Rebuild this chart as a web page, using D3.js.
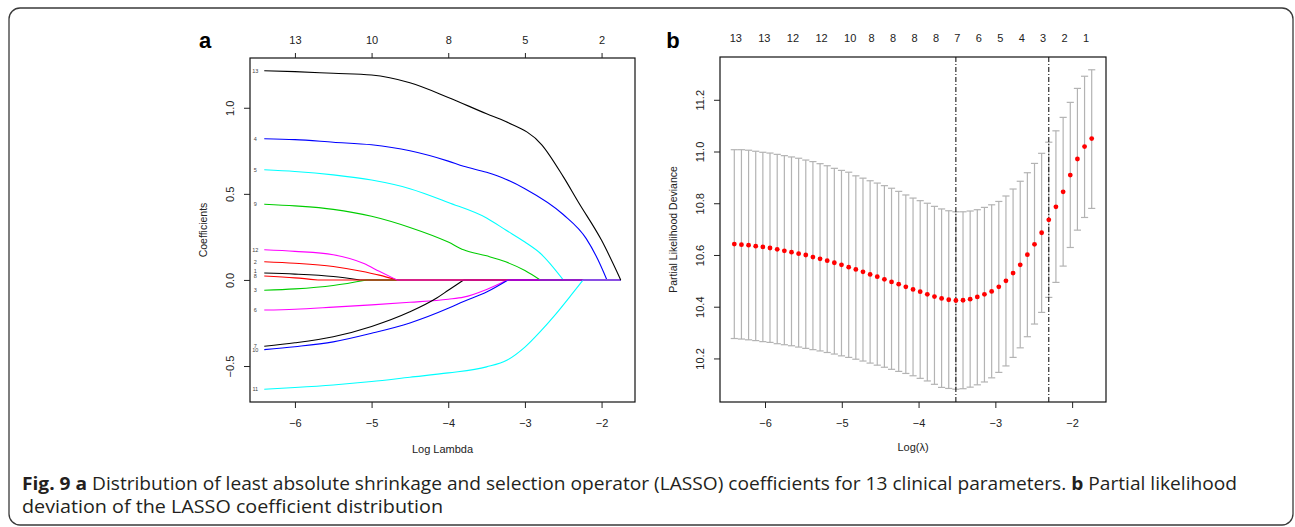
<!DOCTYPE html>
<html>
<head>
<meta charset="utf-8">
<script src="https://cdn.jsdelivr.net/npm/d3@7"></script>
<style>
  body { margin: 0; background: #fff; }
  svg { display: block; font-family: "Liberation Sans", Arial, sans-serif; }
</style>
</head>
<body>
<div id="chart"></div>
<script>
// ---- panel a: lasso coefficient paths, [log lambda, coefficient] ----
const v1 = [[-6.4, 0.040], [-6.0, 0.034], [-5.5, 0.020], [-5.15, 0]];
const v2 = [[-6.4, 0.106], [-6.0, 0.097], [-5.5, 0.078], [-5.15, 0.052], [-4.9, 0.028], [-4.67, 0]];
const v3 = [[-6.4, -0.060], [-6.0, -0.052], [-5.5, -0.032], [-5.06, 0]];
const v4 = [[-6.4, 0.82], [-6.0, 0.815], [-5.5, 0.80], [-5.0, 0.785], [-4.5, 0.75], [-4.0, 0.69], [-3.8, 0.66],
  [-3.5, 0.625], [-3.25, 0.585], [-3.0, 0.53], [-2.5, 0.38], [-2.2, 0.24], [-2.05, 0.12], [-1.93, 0]];
const v5 = [[-6.4, 0.64], [-6.0, 0.63], [-5.5, 0.61], [-5.0, 0.58], [-4.5, 0.53], [-4.0, 0.45], [-3.5, 0.36],
  [-3.25, 0.29], [-3.0, 0.22], [-2.8, 0.155], [-2.5, 0]];
const v6 = [[-6.4, -0.175], [-6.0, -0.17], [-5.5, -0.158], [-5.0, -0.145], [-4.5, -0.13], [-4.0, -0.112],
  [-3.8, -0.10], [-3.5, -0.055], [-3.23, 0]];
const v7 = [[-6.4, -0.385], [-6.0, -0.365], [-5.5, -0.33], [-5.0, -0.27], [-4.5, -0.185], [-4.15, -0.105],
  [-4.0, -0.06], [-3.8, 0]];
const v8 = [[-6.4, 0.023], [-6.0, 0.012], [-5.7, 0]];
const v9 = [[-6.4, 0.44], [-6.0, 0.43], [-5.5, 0.41], [-5.0, 0.37], [-4.5, 0.305], [-4.0, 0.22], [-3.8, 0.175],
  [-3.5, 0.14], [-3.25, 0.105], [-3.0, 0.055], [-2.8, 0]];
const v10 = [[-6.4, -0.405], [-6.0, -0.388], [-5.5, -0.36], [-5.0, -0.31], [-4.5, -0.25], [-4.0, -0.165],
  [-3.8, -0.125], [-3.5, -0.07], [-3.22, 0]];
const v11 = [[-6.4, -0.635], [-6.0, -0.625], [-5.5, -0.61], [-5.0, -0.59], [-4.5, -0.565], [-4.0, -0.54],
  [-3.5, -0.505], [-3.23, -0.465], [-3.0, -0.39], [-2.8, -0.30], [-2.6, -0.20], [-2.4, -0.09], [-2.24, 0]];
const v12 = [[-6.4, 0.175], [-6.0, 0.166], [-5.5, 0.146], [-5.1, 0.095], [-4.9, 0.05], [-4.67, 0]];
const v13 = [[-6.4, 1.215], [-6.0, 1.21], [-5.5, 1.20], [-5.0, 1.19], [-4.5, 1.145], [-4.0, 1.06], [-3.5, 0.965],
  [-3.25, 0.92], [-2.78, 0.785], [-2.5, 0.60], [-2.3, 0.45], [-2.0, 0.23], [-1.75, 0]];
const coefPaths = [v1, v2, v3, v4, v5, v6, v7, v8, v9, v10, v11, v12, v13];
const pathColors = ['#000000', '#ff0000', '#00cd00', '#0000ff', '#00ffff', '#ff00ff'];
const lambdaSpanA = [-6.4, -1.75];
const topTickAt = [-6, -5, -4, -3, -2];
const topTickLabels = ['13', '10', '8', '5', '2'];

// ---- panel b: cross-validation curve ----
const logLambda = [-6.400, -6.307, -6.214, -6.121, -6.028, -5.935, -5.841, -5.748, -5.655, -5.562,
  -5.469, -5.376, -5.283, -5.190, -5.097, -5.004, -4.910, -4.817, -4.724, -4.631,
  -4.538, -4.445, -4.352, -4.259, -4.166, -4.072, -3.979, -3.886, -3.793, -3.700,
  -3.607, -3.514, -3.421, -3.328, -3.235, -3.142, -3.048, -2.955, -2.862, -2.769,
  -2.676, -2.583, -2.490, -2.397, -2.304, -2.211, -2.117, -2.024, -1.931, -1.838, -1.745];
const cvMean = [10.642, 10.640, 10.638, 10.634, 10.631, 10.627, 10.622, 10.616, 10.611, 10.605,
  10.600, 10.592, 10.585, 10.578, 10.570, 10.562, 10.553, 10.544, 10.535, 10.525,
  10.516, 10.506, 10.496, 10.487, 10.477, 10.467, 10.458, 10.448, 10.439, 10.432,
  10.427, 10.424, 10.425, 10.429, 10.438, 10.448, 10.459, 10.477, 10.500, 10.530,
  10.562, 10.601, 10.641, 10.686, 10.736, 10.786, 10.844, 10.909, 10.971, 11.019, 11.050];
const cvUp = [11.007, 11.007, 11.005, 11.001, 10.997, 10.994, 10.989, 10.984, 10.979, 10.974,
  10.967, 10.961, 10.953, 10.945, 10.935, 10.927, 10.920, 10.906, 10.897, 10.887,
  10.878, 10.868, 10.858, 10.846, 10.832, 10.820, 10.810, 10.800, 10.788, 10.778,
  10.771, 10.767, 10.767, 10.770, 10.775, 10.784, 10.794, 10.807, 10.828, 10.855,
  10.885, 10.918, 10.954, 10.993, 11.036, 11.080, 11.132, 11.190, 11.244, 11.291, 11.316];
const cvLo = [10.277, 10.275, 10.272, 10.269, 10.265, 10.262, 10.257, 10.253, 10.249, 10.244,
  10.239, 10.234, 10.229, 10.223, 10.217, 10.210, 10.204, 10.197, 10.190, 10.182,
  10.174, 10.166, 10.158, 10.150, 10.142, 10.133, 10.123, 10.113, 10.100, 10.088,
  10.084, 10.081, 10.083, 10.089, 10.098, 10.109, 10.125, 10.146, 10.171, 10.204,
  10.241, 10.284, 10.333, 10.378, 10.436, 10.494, 10.557, 10.629, 10.696, 10.745, 10.780];
const nzLabelIdx = [0, 4, 8, 12, 16, 19, 22, 25, 28, 31, 34, 37, 40, 43, 46, 49];
const nzLabels = ['13', '13', '12', '12', '10', '8', '8', '8', '8', '7', '6', '5', '4', '3', '2', '1'];
const lambdaMinIdx = 31;
const lambda1seIdx = 44;

const width = 1295;
const height = 527;
const svg = d3.select('#chart').append('svg')
  .attr('width', width)
  .attr('height', height);

svg.append('rect')
  .attr('x', 9).attr('y', 8)
  .attr('width', 1284).attr('height', 517)
  .attr('rx', 11)
  .attr('fill', 'none')
  .attr('stroke', '#3a3a3a')
  .attr('stroke-width', 1.3);

// R style 4% padding
const pad = ext => {
  const p = (ext[1] - ext[0]) * 0.04;
  return [ext[0] - p, ext[1] + p];
};

function rotateLeftLabels(g) {
  g.selectAll('.tick text')
    .attr('x', null)
    .attr('dy', null)
    .attr('text-anchor', 'middle')
    .attr('transform', 'translate(-16,0) rotate(-90)');
}

function styleAxis(g) {
  g.select('.domain').remove();
  g.selectAll('.tick line').attr('stroke', '#222');
  g.selectAll('.tick text').attr('fill', '#222').style('font-size', '11px');
}

// ================= panel a =================
const boxA = { left: 250, right: 635, top: 58, bottom: 402 };
const allCoefs = coefPaths.flat().map(d => d[1]);
const xA = d3.scaleLinear().domain(pad(lambdaSpanA)).range([boxA.left, boxA.right]);
const yA = d3.scaleLinear().domain(pad(d3.extent(allCoefs))).range([boxA.bottom, boxA.top]);

const gA = svg.append('g');
const line = d3.line()
  .x(d => xA(d[0]))
  .y(d => yA(d[1]))
  .curve(d3.curveMonotoneX);

coefPaths.forEach((p, i) => {
  const col = pathColors[i % 6];
  gA.append('path')
    .attr('d', line(p))
    .attr('fill', 'none')
    .attr('stroke', col)
    .attr('stroke-width', 1.1);
  const last = p[p.length - 1];
  if (last[0] < lambdaSpanA[1]) {
    gA.append('line')
      .attr('x1', xA(last[0])).attr('x2', xA(lambdaSpanA[1]))
      .attr('y1', yA(0)).attr('y2', yA(0))
      .attr('stroke', col)
      .attr('stroke-width', 1.1);
  }
  gA.append('text')
    .attr('x', xA(p[0][0]) - 9)
    .attr('y', yA(p[0][1]) + (i === 0 ? -1.5 : 0))
    .attr('dy', '0.35em')
    .attr('text-anchor', 'middle')
    .style('font-size', '5.5px')
    .attr('fill', '#444')
    .text(i + 1);
});

gA.append('rect')
  .attr('x', boxA.left).attr('y', boxA.top)
  .attr('width', boxA.right - boxA.left).attr('height', boxA.bottom - boxA.top)
  .attr('fill', 'none').attr('stroke', '#111').attr('stroke-width', 1.2);

gA.append('g')
  .attr('transform', `translate(0,${boxA.bottom})`)
  .call(d3.axisBottom(xA).tickValues([-6, -5, -4, -3, -2]).tickSize(6).tickPadding(11).tickFormat(d3.format('d')))
  .call(styleAxis);

gA.append('g')
  .attr('transform', `translate(0,${boxA.top})`)
  .call(d3.axisTop(xA).tickValues(topTickAt).tickSize(5).tickPadding(9).tickFormat((d, i) => topTickLabels[i]))
  .call(styleAxis);

gA.append('g')
  .attr('transform', `translate(${boxA.left},0)`)
  .call(d3.axisLeft(yA).tickValues([-0.5, 0, 0.5, 1]).tickSize(6).tickFormat(d3.format('.1f')))
  .call(styleAxis)
  .call(rotateLeftLabels);

gA.append('text')
  .attr('x', (boxA.left + boxA.right) / 2).attr('y', 453)
  .attr('text-anchor', 'middle')
  .style('font-size', '11px').attr('fill', '#222')
  .text('Log Lambda');

gA.append('text')
  .attr('transform', `translate(207,${(boxA.top + boxA.bottom) / 2}) rotate(-90)`)
  .attr('text-anchor', 'middle')
  .style('font-size', '10.5px').attr('fill', '#222')
  .text('Coefficients');

svg.append('text')
  .attr('x', 205).attr('y', 48)
  .attr('text-anchor', 'middle')
  .style('font-size', '22px').style('font-weight', 'bold')
  .text('a');

// ================= panel b =================
const boxB = { left: 720, right: 1106, top: 57, bottom: 402 };
const xB = d3.scaleLinear().domain(pad(d3.extent(logLambda))).range([boxB.left, boxB.right]);
const yB = d3.scaleLinear().domain(pad([d3.min(cvLo), d3.max(cvUp)])).range([boxB.bottom, boxB.top]);
const barHalf = (d3.max(logLambda) - d3.min(logLambda)) * 0.01;

const gB = svg.append('g');
const bars = gB.selectAll('.bar')
  .data(logLambda)
  .enter()
  .append('g')
  .attr('class', 'bar')
  .attr('stroke', '#b3b3b3')
  .attr('stroke-width', 1.2);

bars.append('line')
  .attr('x1', d => xB(d)).attr('x2', d => xB(d))
  .attr('y1', (d, i) => yB(cvLo[i])).attr('y2', (d, i) => yB(cvUp[i]));
bars.append('line')
  .attr('x1', d => xB(d - barHalf)).attr('x2', d => xB(d + barHalf))
  .attr('y1', (d, i) => yB(cvUp[i])).attr('y2', (d, i) => yB(cvUp[i]));
bars.append('line')
  .attr('x1', d => xB(d - barHalf)).attr('x2', d => xB(d + barHalf))
  .attr('y1', (d, i) => yB(cvLo[i])).attr('y2', (d, i) => yB(cvLo[i]));

gB.selectAll('.vline')
  .data([lambdaMinIdx, lambda1seIdx])
  .enter()
  .append('line')
  .attr('x1', d => xB(logLambda[d])).attr('x2', d => xB(logLambda[d]))
  .attr('y1', boxB.top).attr('y2', boxB.bottom)
  .attr('stroke', '#000')
  .attr('stroke-width', 1)
  .attr('stroke-dasharray', '5,2,1,2');

gB.selectAll('circle')
  .data(logLambda)
  .enter()
  .append('circle')
  .attr('cx', d => xB(d))
  .attr('cy', (d, i) => yB(cvMean[i]))
  .attr('r', 2.4)
  .attr('fill', '#ff0000');

gB.append('rect')
  .attr('x', boxB.left).attr('y', boxB.top)
  .attr('width', boxB.right - boxB.left).attr('height', boxB.bottom - boxB.top)
  .attr('fill', 'none').attr('stroke', '#111').attr('stroke-width', 1.2);

gB.append('g')
  .attr('transform', `translate(0,${boxB.bottom})`)
  .call(d3.axisBottom(xB).tickValues([-6, -5, -4, -3, -2]).tickSize(6).tickPadding(11).tickFormat(d3.format('d')))
  .call(styleAxis);

gB.append('g')
  .attr('transform', `translate(${boxB.left},0)`)
  .call(d3.axisLeft(yB).tickValues([10.2, 10.4, 10.6, 10.8, 11.0, 11.2]).tickSize(6).tickFormat(d3.format('.1f')))
  .call(styleAxis)
  .call(rotateLeftLabels);

gB.selectAll('.nz')
  .data(nzLabelIdx)
  .enter()
  .append('text')
  .attr('class', 'nz')
  .attr('x', d => xB(logLambda[d]) + 1.5)
  .attr('y', 42)
  .attr('text-anchor', 'middle')
  .style('font-size', '11px').attr('fill', '#222')
  .text((d, i) => nzLabels[i]);

gB.append('text')
  .attr('x', (boxB.left + boxB.right) / 2).attr('y', 451)
  .attr('text-anchor', 'middle')
  .style('font-size', '11px').attr('fill', '#222')
  .text('Log(λ)');

gB.append('text')
  .attr('transform', `translate(677,${(boxB.top + boxB.bottom) / 2}) rotate(-90)`)
  .attr('text-anchor', 'middle')
  .style('font-size', '10.5px').attr('fill', '#222')
  .text('Partial Likelihood Deviance');

svg.append('text')
  .attr('x', 673).attr('y', 48)
  .attr('text-anchor', 'middle')
  .style('font-size', '22px').style('font-weight', 'bold')
  .text('b');

// ================= caption =================
const cap = svg.append('g')
  .style('font-family', '"Open Sans", "Noto Sans", sans-serif')
  .style('font-size', '17.5px')
  .attr('fill', '#231f20');

const line1 = cap.append('text')
  .attr('x', 22).attr('y', 490)
  .attr('textLength', 1215)
  .attr('lengthAdjust', 'spacingAndGlyphs');
line1.append('tspan').style('font-weight', 'bold').text('Fig. 9 a');
line1.append('tspan').text(' Distribution of least absolute shrinkage and selection operator (LASSO) coefficients for 13 clinical parameters. ');
line1.append('tspan').style('font-weight', 'bold').text('b');
line1.append('tspan').text(' Partial likelihood');

cap.append('text')
  .attr('x', 22).attr('y', 513)
  .attr('textLength', 421)
  .attr('lengthAdjust', 'spacingAndGlyphs')
  .text('deviation of the LASSO coefficient distribution');
</script>
</body>
</html>
